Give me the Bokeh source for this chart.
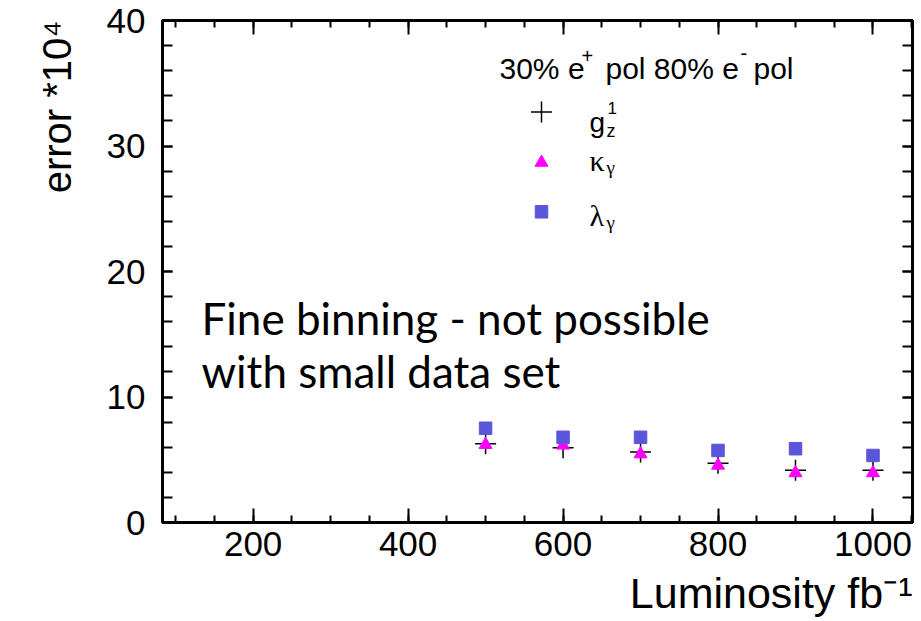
import math
from bokeh.plotting import figure
from bokeh.models import Range1d, LinearAxis, FixedTicker, Label, Title, CustomJSTickFormatter
from bokeh.embed import file_html
from bokeh.resources import INLINE

# ---- data ----
lumi = [500, 600, 700, 800, 900, 1000]
g1z = [6.28, 5.96, 5.62, 4.72, 4.16, 4.16]        # black crosses
kappa_g = [6.20, 6.15, 5.45, 4.55, 3.95, 3.95]    # magenta triangles
lambda_g = [7.51, 6.79, 6.79, 5.74, 5.88, 5.34]   # blue squares
x_ticks = [200, 400, 600, 800, 1000]
y_ticks = [0, 10, 20, 30, 40]

X0, X1 = 83, 1051
Y0, Y1 = 0, 40
FL, FT, FW, FH = 162, 20, 750, 502

p = figure(frame_width=FW, frame_height=FH,
           x_range=Range1d(X0, X1), y_range=Range1d(Y0, Y1),
           output_backend="svg", toolbar_location=None,
           min_border_left=FL, min_border_top=FT, min_border_right=2, min_border_bottom=99,
           background_fill_color="white", border_fill_color="white",
           outline_line_color="black", outline_line_width=3)
p.grid.visible = False


def dx(sx):
    return X0 + (sx - FL) * (X1 - X0) / FW


def dy(sy):
    return Y1 - (sy - FT) * (Y1 - Y0) / FH


x_minor = [v for v in range(100, 1051, 50)]
y_minor = [v for v in range(0, 41, 2)]

FONT = "Liberation Sans"
blank = CustomJSTickFormatter(code="return ''")


def style_x(ax, labels=True):
    ax.ticker = FixedTicker(ticks=x_ticks, minor_ticks=x_minor)
    ax.axis_line_color = None
    ax.major_tick_in = 14
    ax.major_tick_out = 0
    ax.minor_tick_in = 7
    ax.minor_tick_out = 0
    ax.major_tick_line_width = 2
    ax.minor_tick_line_width = 2
    ax.major_label_text_font = FONT
    ax.major_label_text_color = "black"
    if labels:
        ax.major_label_text_font_size = "35px"
        ax.major_label_standoff = 9
    else:
        ax.formatter = blank
        ax.major_label_standoff = 0


def style_y(ax, labels=True):
    ax.ticker = FixedTicker(ticks=y_ticks, minor_ticks=y_minor)
    ax.axis_line_color = None
    ax.major_tick_in = 10
    ax.major_tick_out = 0
    ax.minor_tick_in = 10
    ax.minor_tick_out = 0
    ax.major_tick_line_width = 2
    ax.minor_tick_line_width = 2
    ax.major_label_text_font = FONT
    ax.major_label_text_color = "black"
    if labels:
        ax.major_label_text_font_size = "35px"
        ax.major_label_standoff = 17
    else:
        ax.formatter = blank
        ax.major_label_standoff = 0


style_x(p.xaxis[0])
style_y(p.yaxis[0])
top_ax = LinearAxis()
style_x(top_ax, labels=False)
p.add_layout(top_ax, "above")
right_ax = LinearAxis()
style_y(right_ax, labels=False)
p.add_layout(right_ax, "right")

# axis titles (placed outside the frame as layout panels)
p.add_layout(Title(text="error *10\u2074", align="right", text_font=FONT,
                   text_font_size="40px", text_font_style="normal",
                   text_color="black", standoff=50, offset=0), "left")
p.add_layout(Title(text="Luminosity fb\u207b\u00b9", align="right", text_font=FONT,
                   text_font_size="43px", text_font_style="normal",
                   text_color="black", standoff=17, offset=0), "below")

# ---- data marks ----
p.scatter(lumi, g1z, marker="cross", size=21, line_color="black", line_width=1.5)
p.scatter(lumi, kappa_g, marker="triangle", size=13, fill_color="#ff00ff", line_color="#ff00ff")
p.scatter(lumi, lambda_g, marker="square", size=12.5, fill_color="#5a56d9", line_color="#5a56d9")

# ---- legend keys ----
p.scatter([dx(541)], [dy(111.5)], marker="cross", size=21, line_color="black", line_width=1.5)
p.scatter([dx(541)], [dy(162)], marker="triangle", size=13, fill_color="#ff00ff", line_color="#ff00ff")
p.scatter([dx(541)], [dy(211.3)], marker="square", size=12.5, fill_color="#5a56d9", line_color="#5a56d9")


def lab(text, sx, sy, size, font=FONT, angle=0.0):
    p.add_layout(Label(x=dx(sx), y=dy(sy), text=text, text_font=font,
                       text_font_size=f"{size}px", text_baseline="alphabetic",
                       text_align="left", angle=angle, text_color="black"))


# legend header
lab("30% e", 499, 68, 30)
lab("+", 581, 55, 20)
lab("pol 80% e", 605, 68, 30)
lab("-", 740, 52, 20)
lab("pol", 753, 68, 30)

# legend labels
lab("g", 589, 122, 28)
lab("1", 607, 107, 17)
lab("z", 606, 130, 18)
lab("κ", 589, 160, 30, font="Liberation Serif")
lab("γ", 606, 167, 19, font="Liberation Serif")
lab("λ", 589, 215, 30, font="Liberation Serif")
lab("γ", 606, 222, 19, font="Liberation Serif")

# annotation
lab("Fine binning - not possible", 201, 317, 44, font="Lato")
lab("with small data set", 201, 370, 44, font="Lato")

open("out.html", "w").write(file_html(p, INLINE))
